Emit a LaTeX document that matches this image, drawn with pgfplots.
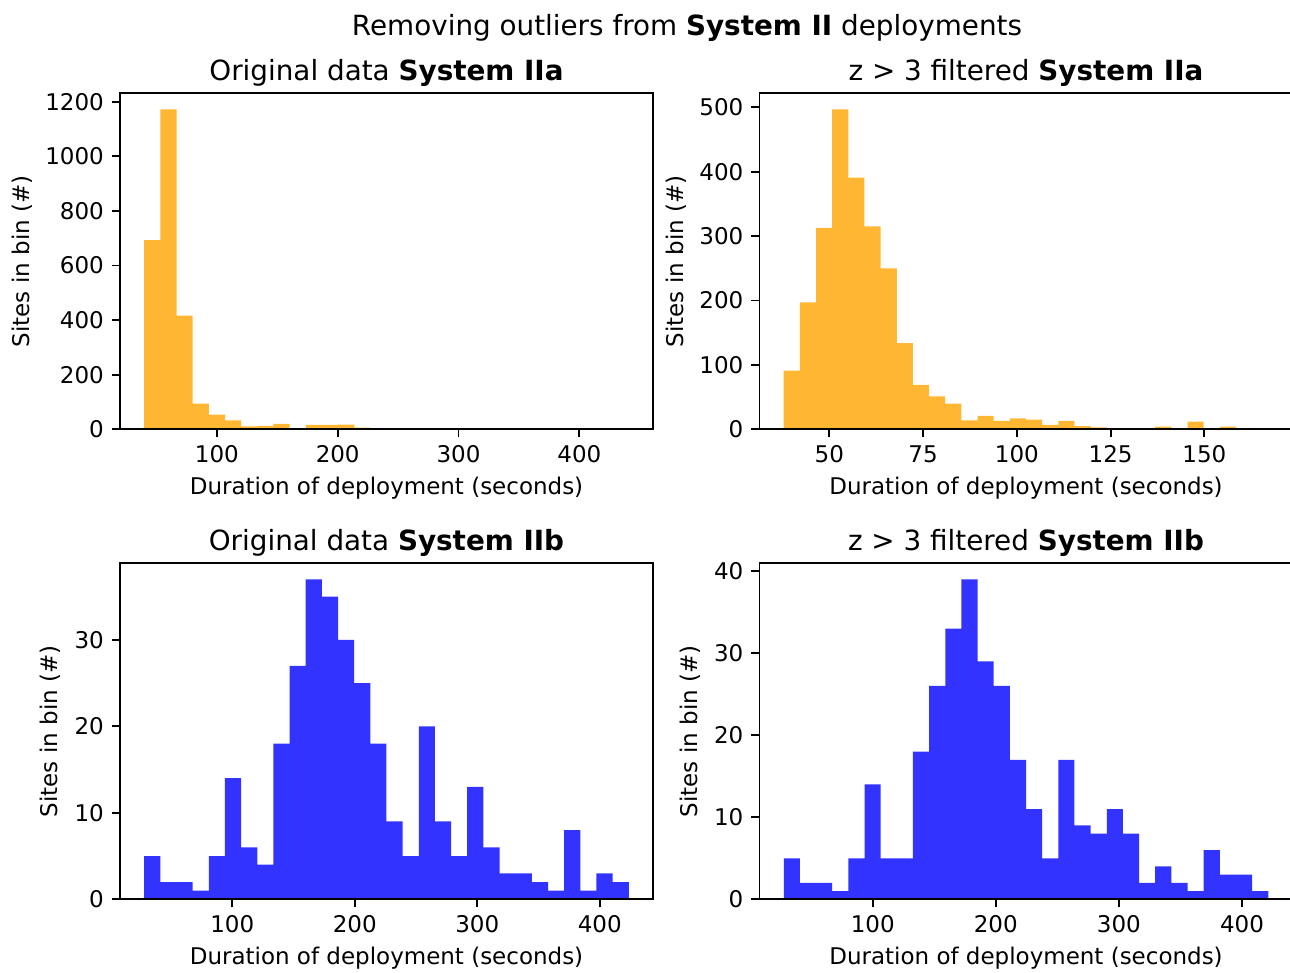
\documentclass[border=0pt]{standalone}
\usepackage{fontspec}
\setmainfont{DejaVu Sans}
\usepackage{pgfplots}
\pgfplotsset{compat=1.18}
\definecolor{orangeb}{RGB}{255,183,51}
\definecolor{blueb}{RGB}{51,51,255}

\pgfplotsset{
  myax/.style={
    scale only axis, width=231.86pt, height=146.16pt,
    anchor=south west,
    axis on top,
    axis line style={line width=0.8pt, black},
    tick align=outside, major tick length=3.5pt,
    tick style={black, line width=0.8pt},
    xtick pos=bottom, ytick pos=left,
    ymin=0,
    ticklabel style={font=\fontsize{10}{12}\selectfont},
    /pgf/number format/assume math mode=true,
    /pgf/number format/1000 sep={},
    label style={font=\fontsize{10}{12}\selectfont},
    xlabel={Duration of deployment (seconds)},
    ylabel={Sites in bin (\#)},
    title style={font=\fontsize{12.1}{14}\selectfont, at={(0.5,1)}, anchor=base, yshift=-0.3pt},
    xlabel style={at={(axis description cs:0.5,-0.1926)}, anchor=base},
  }
}

\begin{document}
\begin{tikzpicture}
\useasboundingbox (0,0) rectangle (561.15pt,422.82pt);
\node[anchor=base, font=\fontsize{12.1}{14}\selectfont] at (298.85pt,407.2pt) {Removing outliers from \textbf{System II} deployments};

% Panel A
\begin{axis}[myax, at={(52.20pt,236.07pt)},
  xmin=19.85, xmax=460.95, ymax=1230.6,
  xtick={100,200,300,400}, ytick={0,200,400,600,800,1000,1200},
  title={Original data \textbf{System IIa}},
  ylabel style={at={(axis description cs:-0.1839,0.5)}, anchor=center}]
\addplot[ybar interval, fill=orangeb, draw=none] table {
x y
39.90 693
53.27 1172
66.64 416
80.01 94
93.38 54
106.75 33
120.12 11
133.49 13
146.86 20
160.23 0
173.60 16
186.97 16
200.34 17
213.71 6
227.08 0
240.45 0
253.82 0
267.19 0
280.56 0
293.93 0
307.30 0
320.67 0
334.04 0
347.41 0
360.78 0
374.15 0
387.52 0
400.89 0
414.26 0
427.63 1
441.00 0
};
\end{axis}

% Panel B
\begin{axis}[myax, at={(330.38pt,236.07pt)},
  xmin=31.39, xmax=173.5, ymax=521.85,
  xtick={50,75,100,125,150}, ytick={0,100,200,300,400,500},
  title={z > 3 filtered \textbf{System IIa}},
  ylabel style={at={(axis description cs:-0.1567,0.5)}, anchor=center}]
\addplot[ybar interval, fill=orangeb, draw=none] table {
x y
37.85 91
42.16 197
46.46 313
50.77 497
55.07 391
59.38 315
63.69 250
67.99 134
72.30 69
76.60 51
80.91 40
85.22 14
89.52 21
93.83 13
98.13 17
102.44 15
106.75 7
111.05 13
115.36 5
119.66 3
123.97 1
128.28 2
132.58 2
136.89 4
141.19 2
145.50 12
149.81 0
154.11 4
158.42 1
162.72 1
167.03 0
};
\end{axis}

% Panel C
\begin{axis}[myax, at={(52.20pt,31.62pt)},
  xmin=8.3, xmax=443.5, ymax=38.85,
  xtick={100,200,300,400}, ytick={0,10,20,30},
  title={Original data \textbf{System IIb}},
  ylabel style={at={(axis description cs:-0.131,0.5)}, anchor=center}]
\addplot[ybar interval, fill=blueb, draw=none] table {
x y
28.08 5
41.27 2
54.45 2
67.64 1
80.83 5
94.02 14
107.20 6
120.39 4
133.58 18
146.76 27
159.95 37
173.14 35
186.32 30
199.51 25
212.70 18
225.89 9
239.07 5
252.26 20
265.45 9
278.63 5
291.82 13
305.01 6
318.19 3
331.38 3
344.57 2
357.76 1
370.94 8
384.13 1
397.32 3
410.50 2
423.69 0
};
\end{axis}

% Panel D
\begin{axis}[myax, at={(330.38pt,31.62pt)},
  xmin=8.0, xmax=441.1, ymax=40.95,
  xtick={100,200,300,400}, ytick={0,10,20,30,40},
  title={z > 3 filtered \textbf{System IIb}},
  ylabel style={at={(axis description cs:-0.130,0.5)}, anchor=center}]
\addplot[ybar interval, fill=blueb, draw=none] table {
x y
27.70 5
40.82 2
53.95 2
67.07 1
80.19 5
93.32 14
106.44 5
119.56 5
132.68 18
145.81 26
158.93 33
172.05 39
185.18 29
198.30 26
211.42 17
224.55 11
237.67 5
250.79 17
263.91 9
277.04 8
290.16 11
303.28 8
316.41 2
329.53 4
342.65 2
355.78 1
368.90 6
382.02 3
395.14 3
408.27 1
421.39 0
};
\end{axis}
\end{tikzpicture}
\end{document}
